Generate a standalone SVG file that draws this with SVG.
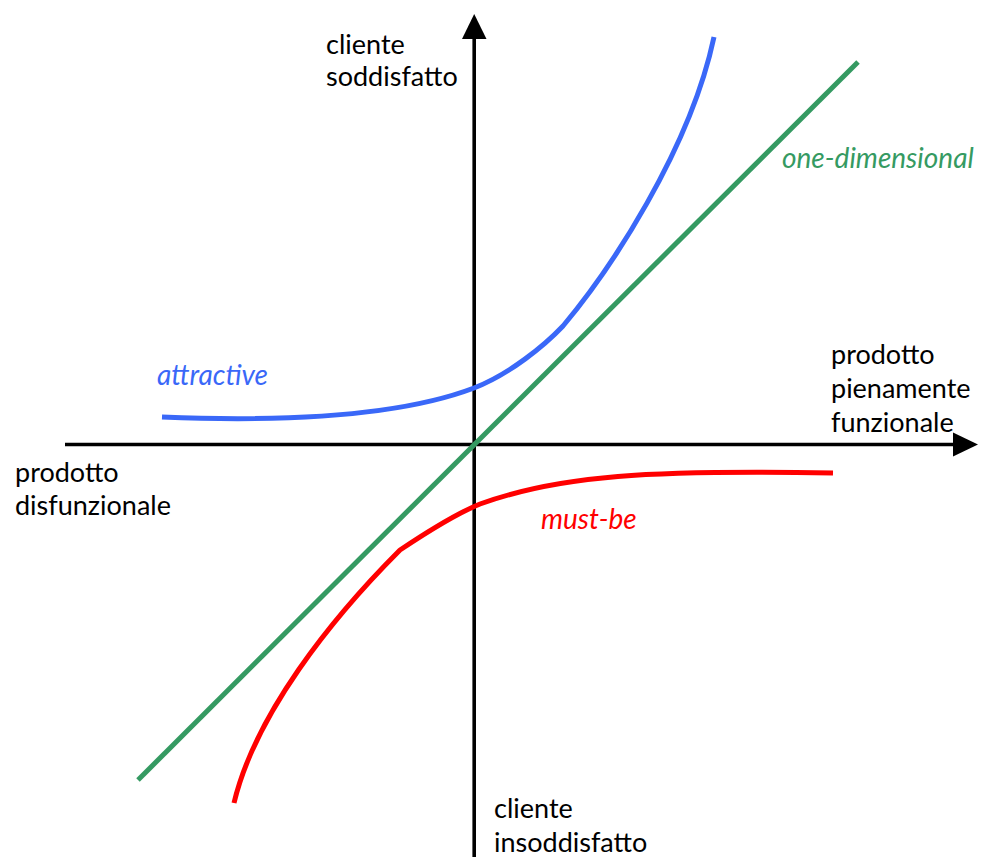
<svg xmlns="http://www.w3.org/2000/svg" width="983" height="857" viewBox="0 0 983 857">
  <style>
    .lbl { font-family: Lato, "Open Sans", "Liberation Sans", sans-serif; font-size: 27px; fill: #000; }
    .cur { font-family: Lato, "Open Sans", "Liberation Sans", sans-serif; font-size: 28px; font-style: italic; }
    .axis { stroke: #000; stroke-width: 3.6; fill: none; }
    .curve { fill: none; stroke-width: 5; stroke-linecap: butt; stroke-linejoin: round; }
  </style>
  <rect width="983" height="857" fill="#fff"/>

  <!-- axes -->
  <g id="axes">
    <line class="axis" x1="65" y1="444.5" x2="956" y2="444.5"/>
    <polygon points="953,432.5 978,444.5 953,456.5" fill="#000"/>
    <line class="axis" x1="474.2" y1="857" x2="474.2" y2="36"/>
    <polygon points="462,39 474.2,14 486.5,39" fill="#000"/>
  </g>

  <!-- curves -->
  <g id="connectors">
    <line id="one-dimensional" class="curve" x1="138" y1="780" x2="858" y2="62" stroke="#359A62" stroke-width="4.6"/>
    <path id="attractive" class="curve" stroke="#3A68F8"
          d="M162,417 C260,421 390,420 474,388 C510,374 545,345 563,326 C610,270 690,150 714,37"/>
    <path id="must-be" class="curve" stroke="#FF0000"
          d="M234,803 C255,715 330,620 400,550 C430,530 460,512 480,504 C560,475 650,470 833,473"/>
  </g>

  <!-- axis labels -->
  <g id="label-top">
    <text class="lbl" x="326" y="54">cliente</text>
    <text class="lbl" x="326" y="86">soddisfatto</text>
  </g>
  <g id="label-right">
    <text class="lbl" x="831" y="364">prodotto</text>
    <text class="lbl" x="831" y="398">pienamente</text>
    <text class="lbl" x="831" y="432">funzionale</text>
  </g>
  <g id="label-left">
    <text class="lbl" x="15" y="482">prodotto</text>
    <text class="lbl" x="15" y="515">disfunzionale</text>
  </g>
  <g id="label-bottom">
    <text class="lbl" x="494" y="818">cliente</text>
    <text class="lbl" x="494" y="852">insoddisfatto</text>
  </g>

  <!-- curve labels -->
  <g id="label-one-dimensional">
    <text class="cur" x="782" y="168" fill="#359A62">one-dimensional</text>
  </g>
  <g id="label-attractive">
    <text class="cur" x="157" y="385" fill="#3A68F8">attractive</text>
  </g>
  <g id="label-must-be">
    <text class="cur" x="541" y="529" fill="#FF0000">must-be</text>
  </g>
</svg>
